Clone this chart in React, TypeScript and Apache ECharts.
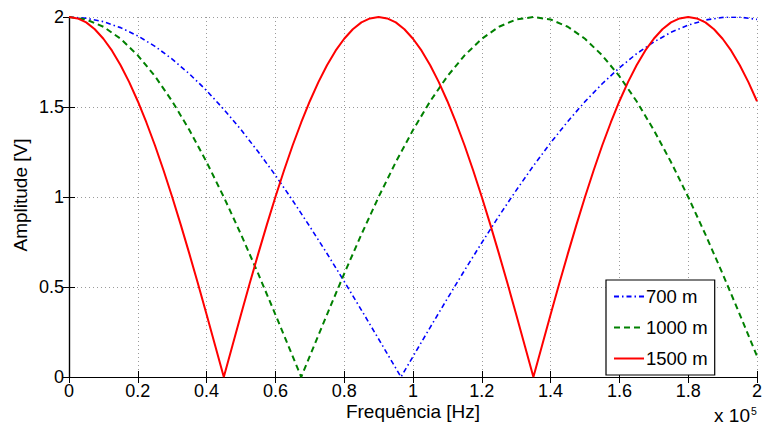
import React, { useEffect, useRef } from "react";
import * as echarts from "echarts";

// x axis in units of 1e5 Hz
const X_MIN = 0;
const X_MAX = 2;
const X_INTERVAL = 0.2;
const Y_MIN = 0;
const Y_MAX = 2;
const Y_INTERVAL = 0.5;

const SERIES_NAMES = ["700 m", "1000 m", "1500 m"];

// 700 m (blue), sampled every 0.05
const BLUE_STEP = 0.05;
const blueValues = [
  2.0, 1.993, 1.974, 1.941, 1.895, 1.837, 1.766, 1.684, 1.591, 1.487,
  1.374, 1.251, 1.121, 0.981, 0.836, 0.686, 0.531, 0.372, 0.211, 0.049,
  0.114, 0.276, 0.436, 0.593, 0.746, 0.895, 1.037, 1.173, 1.301, 1.42,
  1.53, 1.629, 1.718, 1.796, 1.861, 1.915, 1.955, 1.983, 1.998, 1.999,
  1.987,
];
const blueNotch = [0.965, 0];

// 1000 m (green), sampled every 0.05
const GREEN_STEP = 0.05;
const greenValues = [
  2.0, 1.986, 1.946, 1.879, 1.787, 1.671, 1.532, 1.372, 1.194, 1.0,
  0.792, 0.574, 0.347, 0.116, 0.116, 0.347, 0.574, 0.792, 1.0, 1.194,
  1.372, 1.532, 1.671, 1.787, 1.879, 1.946, 1.986, 2.0, 1.986, 1.946,
  1.879, 1.787, 1.671, 1.532, 1.372, 1.194, 1.0, 0.792, 0.574, 0.347,
  0.116,
];
const greenNotch = [0.675, 0];

// 1500 m (red), sampled every 0.025
const RED_STEP = 0.025;
const redValues = [
  2.0, 1.992, 1.97, 1.932, 1.879, 1.813, 1.732, 1.638, 1.532, 1.414,
  1.286, 1.147, 1.0, 0.845, 0.684, 0.518, 0.347, 0.174, 0.0,
  0.174, 0.347, 0.518, 0.684, 0.845, 1.0, 1.147, 1.286, 1.414, 1.532,
  1.638, 1.732, 1.813, 1.879, 1.932, 1.97, 1.992, 2.0,
  1.992, 1.97, 1.932, 1.879, 1.813, 1.732, 1.638, 1.532, 1.414, 1.286,
  1.147, 1.0, 0.845, 0.684, 0.518, 0.347, 0.174, 0.0,
  0.174, 0.347, 0.518, 0.684, 0.845, 1.0, 1.147, 1.286, 1.414, 1.532,
  1.638, 1.732, 1.813, 1.879, 1.932, 1.97, 1.992, 2.0,
  1.992, 1.97, 1.932, 1.879, 1.813, 1.732, 1.638, 1.532,
];

const FONT = '"Liberation Sans", Arial, Helvetica, sans-serif';

function toPairs(values: number[], step: number, extra?: number[]) {
  const pts: number[][] = values.map((v, i) => [+(i * step).toFixed(4), v]);
  if (extra) pts.push(extra);
  pts.sort((a, b) => a[0] - b[0]);
  return pts;
}

function fmt(v: number) {
  return String(+v.toFixed(1));
}

export default function App() {
  const ref = useRef<HTMLDivElement>(null);

  useEffect(() => {
    if (!ref.current) return;
    const chart = echarts.init(ref.current, undefined, { renderer: "svg" });

    const tickInside = { show: true, inside: true, length: 6, lineStyle: { color: "#000", width: 1 } };
    const axisLine = { show: true, lineStyle: { color: "#000", width: 1.2 } };
    const gridLine = { show: true, lineStyle: { color: "#9a9a9a", width: 1, type: [1, 3] as any } };

    chart.setOption({
      animation: false,
      backgroundColor: "#fff",
      grid: { left: 69, right: 6, top: 17, bottom: 53, containLabel: false, outerBoundsMode: "none" },
      xAxis: [
        {
          type: "value",
          min: X_MIN,
          max: X_MAX,
          interval: X_INTERVAL,
          position: "bottom",
          axisLine,
          axisTick: tickInside,
          splitLine: gridLine,
          axisLabel: {
            color: "#000",
            fontSize: 18,
            fontFamily: FONT,
            margin: 5,
            formatter: (v: number) => fmt(v),
          },
        },
        {
          type: "value",
          min: X_MIN,
          max: X_MAX,
          interval: X_INTERVAL,
          position: "top",
          axisLine,
          axisTick: tickInside,
          splitLine: { show: false },
          axisLabel: { show: false },
        },
      ],
      yAxis: [
        {
          type: "value",
          min: Y_MIN,
          max: Y_MAX,
          interval: Y_INTERVAL,
          position: "left",
          axisLine,
          axisTick: tickInside,
          splitLine: gridLine,
          axisLabel: {
            color: "#000",
            fontSize: 18,
            fontFamily: FONT,
            margin: 5,
            formatter: (v: number) => fmt(v),
          },
        },
        {
          type: "value",
          min: Y_MIN,
          max: Y_MAX,
          interval: Y_INTERVAL,
          position: "right",
          axisLine,
          axisTick: tickInside,
          splitLine: { show: false },
          axisLabel: { show: false },
        },
      ],
      legend: {
        orient: "vertical",
        left: 606,
        top: 280,
        padding: 7,
        itemGap: 12,
        itemWidth: 30,
        itemHeight: 14,
        borderColor: "#000",
        borderWidth: 1.2,
        backgroundColor: "#fff",
        borderRadius: 0,
        itemStyle: { opacity: 0 },
        textStyle: { color: "#000", fontSize: 18.5, fontFamily: FONT, padding: [0, 0, 0, -3] },
        data: SERIES_NAMES,
      },
      series: [
        {
          name: SERIES_NAMES[0],
          type: "line",
          data: toPairs(blueValues, BLUE_STEP, blueNotch),
          symbol: "none",
          color: "#0000ff",
          lineStyle: { color: "#0000ff", width: 1.6, type: [5, 3, 1.5, 3] as any },
          z: 2,
        },
        {
          name: SERIES_NAMES[1],
          type: "line",
          data: toPairs(greenValues, GREEN_STEP, greenNotch),
          symbol: "none",
          color: "#008000",
          lineStyle: { color: "#008000", width: 2, type: [6, 4] as any },
          z: 3,
        },
        {
          name: SERIES_NAMES[2],
          type: "line",
          data: toPairs(redValues, RED_STEP),
          symbol: "none",
          color: "#ff0000",
          lineStyle: { color: "#ff0000", width: 2 },
          z: 4,
        },
      ],
      graphic: [
        {
          type: "text",
          x: 413,
          y: 411,
          style: {
            text: "Frequência [Hz]",
            fontSize: 19,
            fontFamily: FONT,
            fill: "#000",
            align: "center",
            verticalAlign: "middle",
          },
        },
        {
          type: "text",
          x: 20,
          y: 195,
          rotation: Math.PI / 2,
          style: {
            text: "Amplitude [V]",
            fontSize: 19,
            fontFamily: FONT,
            fill: "#000",
            align: "center",
            verticalAlign: "middle",
          },
        },
        {
          type: "text",
          x: 750,
          y: 415,
          style: {
            text: "x 10",
            fontSize: 19,
            fontFamily: FONT,
            fill: "#000",
            align: "right",
            verticalAlign: "middle",
          },
        },
        {
          type: "text",
          x: 751,
          y: 411,
          style: {
            text: "5",
            fontSize: 10.5,
            fontFamily: FONT,
            fill: "#000",
            align: "left",
            verticalAlign: "middle",
          },
        },
      ],
    });

    return () => chart.dispose();
  }, []);

  return (
    <div
      ref={ref}
      style={{ position: "fixed", left: 0, top: 0, width: 763, height: 430, background: "#fff" }}
    />
  );
}
